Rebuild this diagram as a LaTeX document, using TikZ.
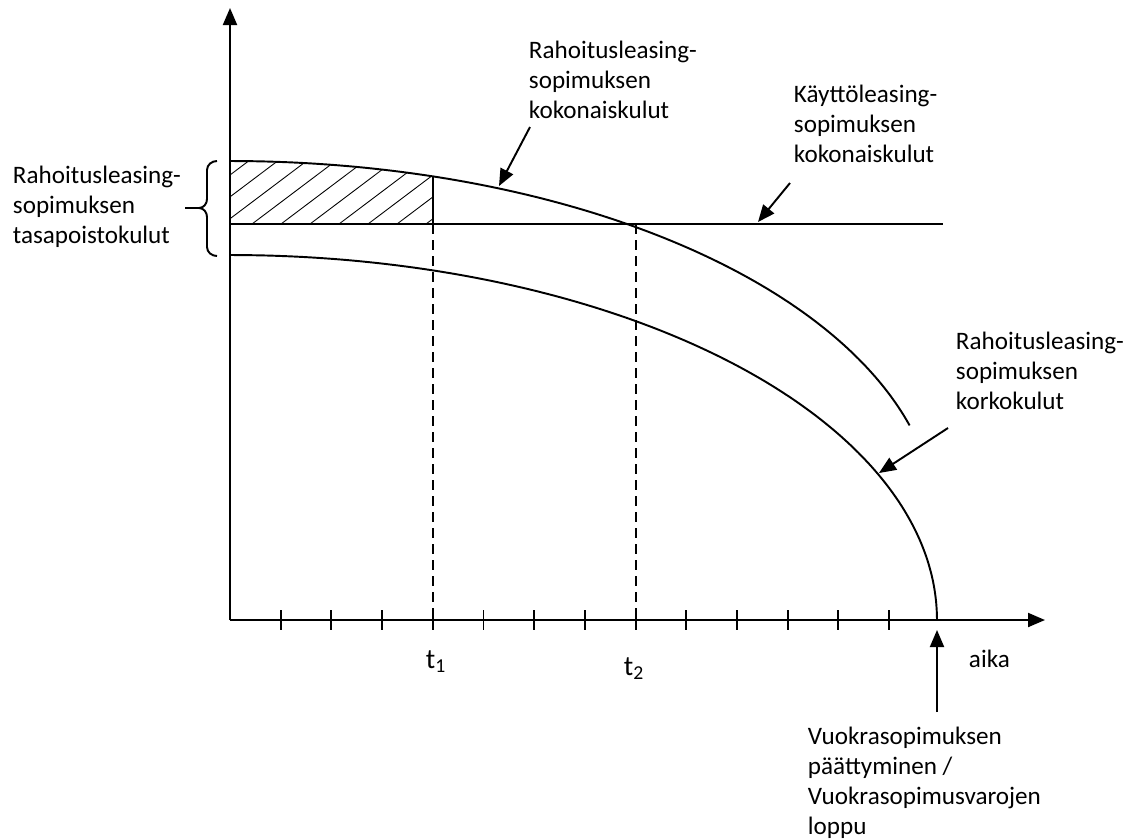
\documentclass[tikz,border=0pt]{standalone}
\usepackage{fontspec}
\setmainfont{Carlito}
\usetikzlibrary{arrows.meta, positioning}

\begin{document}
\begin{tikzpicture}[
    x=0.2mm, y=-0.2mm,
    line width=1.1pt,
    lbl/.style={align=left, inner sep=0pt, anchor=north west,
                font=\fontsize{14.3}{17.07}\selectfont},
    tlbl/.style={inner sep=0pt, anchor=base west, font=\fontsize{16}{19}\selectfont},
    arr/.style={-{Triangle[length=3.4mm, width=2.8mm]}, line width=1.1pt},
    guide/.style={dash pattern=on 2mm off 1.2mm, line width=1.1pt},
    hatch/.style={line width=0.5pt}
  ]
  \useasboundingbox (0,0) rectangle (1130,839);

  % axes
  \coordinate (O) at (230,620);
  \coordinate (ytop) at (230,8);
  \coordinate (xend) at (1045,620);
  \draw[arr] (O) -- (ytop);
  \draw[arr] (O) -- (xend);
  \foreach \k in {1,...,13}
    \draw ({230+50.7*\k},610) -- ({230+50.7*\k},630);

  % hatched area
  \begin{scope}
    \clip plot[domain=73.3:90, samples=30] ({230+707*cos(\x)}, {526-365*sin(\x)})
      -- (230,224) -- (433,224) -- cycle;
    \foreach \h in {136,165,...,430}
      \draw[hatch] (\h,224) -- ++(130,-98);
  \end{scope}

  % curves and lines
  \draw plot[domain=0:90, samples=120] ({230+707*cos(\x)}, {620-365*sin(\x)});
  \draw plot[domain=16:90, samples=120] ({230+707*cos(\x)}, {526-365*sin(\x)});
  \draw (230,224) -- (943,224);
  \draw (433,176) -- (433,224);
  \draw[guide] (433,224) -- (433,620);
  \draw[guide] (636,224) -- (636,620);

  % brace
  \draw (217,161) to[out=180,in=90] (207,170) -- (207,199)
    to[out=-90,in=0] (199,208) -- (185,208);
  \draw (199,208) to[out=0,in=90] (207,217) -- (207,247)
    to[out=-90,in=180] (217,256);

  % labels
  \node[lbl] (tasa) at (12,165) {Rahoitusleasing-\\sopimuksen\\tasapoistokulut};
  \node[lbl] (koko) at (528,40) {Rahoitusleasing-\\sopimuksen\\kokonaiskulut};
  \node[lbl] (kaytto) at (793,84) {Käyttöleasing-\\sopimuksen\\kokonaiskulut};
  \node[lbl] (korko) at (955,331) {Rahoitusleasing-\\sopimuksen\\korkokulut};
  \node[lbl] (vuokra) at (807,726) {Vuokrasopimuksen\\päättyminen /\\Vuokrasopimusvarojen\\loppu};
  \node[tlbl] (t1) at (425,668) {t\textsubscript{1}};
  \node[tlbl] (t2) at (623,675) {t\textsubscript{2}};
  \node[lbl, anchor=base west] (aika) at (968,667) {aika};

  % pointers
  \coordinate (kokoA) at (530,127);
  \coordinate (kokoB) at (499,186);
  \coordinate (kayttoA) at (790,183);
  \coordinate (kayttoB) at (758,222);
  \coordinate (korkoA) at (948,428);
  \coordinate (korkoB) at (879,473);
  \coordinate (vuokraA) at (937,712);
  \coordinate (vuokraB) at (937,630);
  \draw[arr] (kokoA) -- (kokoB);
  \draw[arr] (kayttoA) -- (kayttoB);
  \draw[arr] (korkoA) -- (korkoB);
  \draw[arr] (vuokraA) -- (vuokraB);
\end{tikzpicture}
\end{document}
